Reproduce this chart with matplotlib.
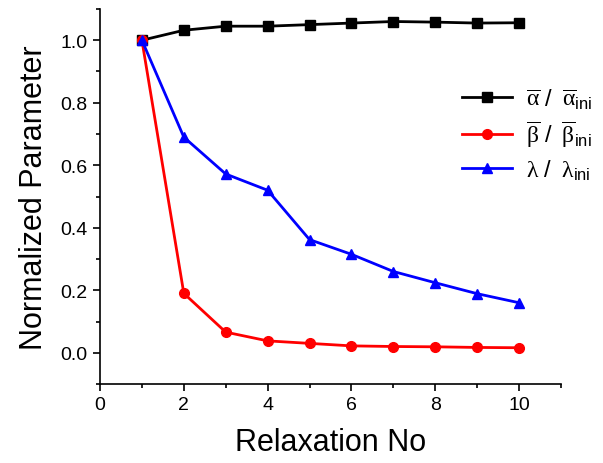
import matplotlib
matplotlib.use("Agg")
import matplotlib.pyplot as plt
from matplotlib.ticker import MultipleLocator

plt.rcParams['font.family'] = ['Liberation Sans', 'DejaVu Sans']
plt.rcParams['mathtext.fontset'] = 'custom'
plt.rcParams['mathtext.rm'] = 'Liberation Serif'
plt.rcParams['mathtext.sf'] = 'Liberation Sans'
plt.rcParams['mathtext.it'] = 'Liberation Serif'
plt.rcParams['mathtext.bf'] = 'Liberation Sans:bold'

relax_no = [1, 2, 3, 4, 5, 6, 7, 8, 9, 10]
alpha_norm = [1.0, 1.032, 1.045, 1.045, 1.05, 1.055, 1.06, 1.058, 1.055, 1.056]
beta_norm = [1.0, 0.19, 0.066, 0.038, 0.030, 0.022, 0.020, 0.019, 0.017, 0.016]
lambda_norm = [1.0, 0.69, 0.572, 0.52, 0.362, 0.315, 0.26, 0.224, 0.189, 0.16]

labels = [r'$\overline{\mathrm{\alpha}}\ \mathsf{/}\;\ \overline{\mathrm{\alpha}}_{\mathsf{ini}}$',
          r'$\overline{\mathrm{\beta}}\ \mathsf{/}\;\ \overline{\mathrm{\beta}}_{\mathsf{ini}}$',
          r'$\mathrm{\lambda}\ \mathsf{/}\;\ \mathrm{\lambda}_{\mathsf{ini}}$']

fig = plt.figure(figsize=(6.03, 4.64), dpi=100)
ax = fig.add_axes([100/603, 1 - 385/464, (561-100)/603, (385-10)/464])

ax.plot(relax_no, alpha_norm, color='black', marker='s', markersize=6.5, linewidth=2, label=labels[0])
ax.plot(relax_no, beta_norm, color='red', marker='o', markersize=7, linewidth=2, label=labels[1])
ax.plot(relax_no, lambda_norm, color='blue', marker='^', markersize=7.5, linewidth=2, label=labels[2])

ax.set_xlim(0, 11)
ax.set_ylim(-0.1, 1.1)
ax.xaxis.set_minor_locator(MultipleLocator(1))
ax.yaxis.set_minor_locator(MultipleLocator(0.1))
ax.set_xticks([0, 2, 4, 6, 8, 10])
ax.set_yticks([0.0, 0.2, 0.4, 0.6, 0.8, 1.0])
ax.set_yticklabels(['0.0', '0.2', '0.4', '0.6', '0.8', '1.0'])
ax.spines['top'].set_visible(False)
ax.spines['right'].set_visible(False)
for s in ['left', 'bottom']:
    ax.spines[s].set_linewidth(1.2)
ax.tick_params(which='major', direction='out', length=5, width=1.2, labelsize=14, pad=4)
ax.tick_params(which='minor', direction='out', length=3, width=1.2)

ax.set_xlabel('Relaxation No', fontsize=22, labelpad=10)
ax.set_ylabel('Normalized Parameter', fontsize=22, labelpad=8)

ax.legend(loc='center left', bbox_to_anchor=(362/461, (385-135)/375), frameon=False, fontsize=17,
          handlelength=2.1, handletextpad=0.6, labelspacing=0.35, borderaxespad=0, borderpad=0)

fig.savefig('out.png', dpi=100)
